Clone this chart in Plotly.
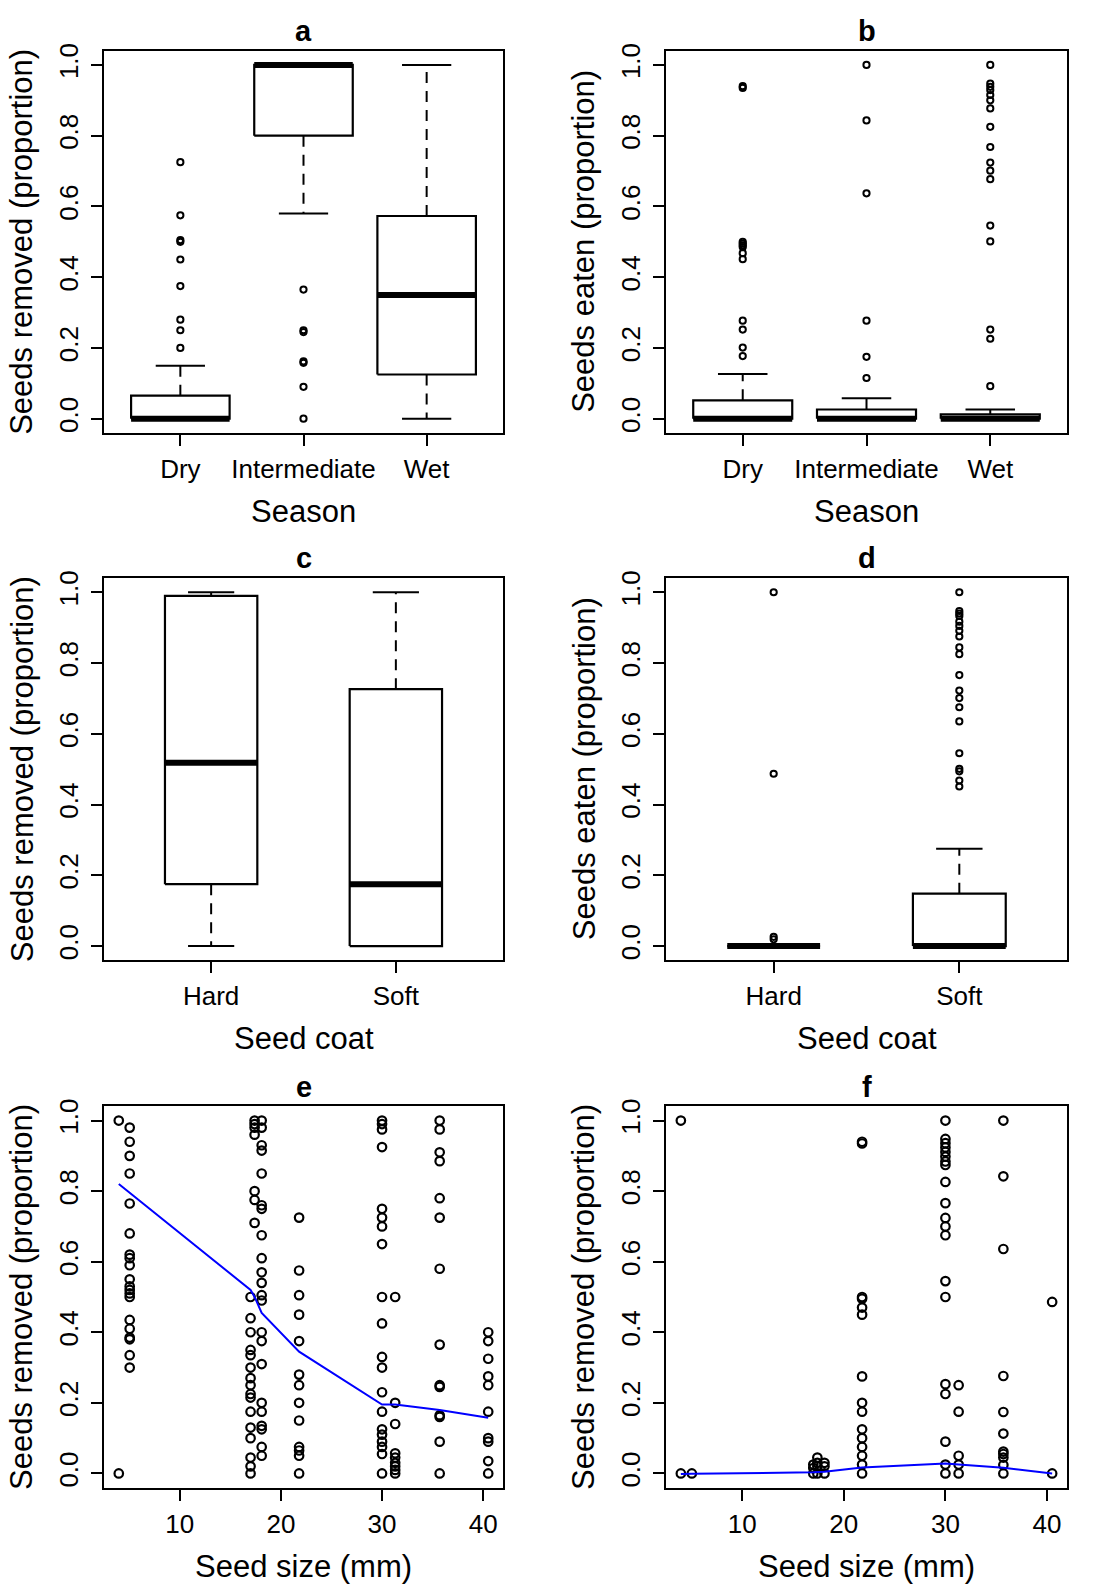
import plotly.graph_objects as go

W, H = 1094, 1591
FONT = "Liberation Sans, Arial, Helvetica, sans-serif"

# ---------------- data ----------------
season_cats = ["Dry", "Intermediate", "Wet"]
coat_cats = ["Hard", "Soft"]

# panel a: seeds removed by season (lower whisker, q1, median, q3, upper whisker)
a_lo = [0.0, 0.58, 0.0]
a_q1 = [0.0, 0.80, 0.125]
a_med = [0.0, 1.0, 0.35]
a_q3 = [0.065, 1.0, 0.573]
a_hi = [0.15, 1.0, 1.0]
a_out_dry = [0.725, 0.575, 0.505, 0.50, 0.45, 0.375, 0.28, 0.25, 0.20]
a_out_int = [0.365, 0.25, 0.245, 0.162, 0.158, 0.09, 0.0]
a_out_wet = []

# panel b: seeds eaten by season
b_lo = [0.0, 0.0, 0.0]
b_q1 = [0.0, 0.0, 0.0]
b_med = [0.0, 0.0, 0.0]
b_q3 = [0.052, 0.026, 0.012]
b_hi = [0.126, 0.058, 0.026]
b_out_dry = [0.94, 0.935, 0.50, 0.495, 0.49, 0.485, 0.468, 0.451, 0.277, 0.252, 0.201, 0.177]
b_out_int = [1.0, 0.843, 0.637, 0.277, 0.175, 0.115]
b_out_wet = [1.0, 0.947, 0.938, 0.929, 0.915, 0.90, 0.877, 0.825, 0.768, 0.724, 0.701,
             0.677, 0.546, 0.501, 0.252, 0.226, 0.092]

# panel c: seeds removed by seed coat
c_lo = [0.0, 0.0]
c_q1 = [0.175, 0.0]
c_med = [0.518, 0.175]
c_q3 = [0.99, 0.726]
c_hi = [1.0, 1.0]
c_out_hard = []
c_out_soft = []

# panel d: seeds eaten by seed coat
d_lo = [0.0, 0.0]
d_q1 = [0.0, 0.0]
d_med = [0.0, 0.0]
d_q3 = [0.0, 0.148]
d_hi = [0.0, 0.275]
d_out_hard = [1.0, 0.487, 0.026, 0.019]
d_out_soft = [1.0, 0.947, 0.94, 0.933, 0.917, 0.905, 0.891, 0.875, 0.844, 0.825, 0.766,
              0.722, 0.701, 0.675, 0.635, 0.545, 0.501, 0.494, 0.468, 0.451]

# panels e, f: seed size columns
seed_size = [3.97, 5.05, 17.0, 17.4, 18.1, 21.8, 30.0, 31.3, 35.7, 40.5]
e_removed = [
    [1.0, 0.0],
    [0.98, 0.94, 0.90, 0.85, 0.765, 0.68, 0.62, 0.61, 0.59, 0.55, 0.53, 0.52, 0.51, 0.50,
     0.435, 0.41, 0.385, 0.38, 0.335, 0.30],
    [0.50, 0.44, 0.40, 0.35, 0.335, 0.30, 0.27, 0.25, 0.225, 0.215, 0.175, 0.13, 0.10,
     0.045, 0.02, 0.0],
    [1.0, 0.99, 0.98, 0.96, 0.80, 0.775, 0.71],
    [1.0, 0.98, 0.93, 0.915, 0.85, 0.76, 0.75, 0.675, 0.61, 0.57, 0.54, 0.505, 0.49, 0.40,
     0.375, 0.31, 0.20, 0.175, 0.135, 0.125, 0.075, 0.05],
    [0.725, 0.575, 0.505, 0.45, 0.375, 0.28, 0.25, 0.20, 0.15, 0.075, 0.065, 0.05, 0.0],
    [1.0, 0.99, 0.975, 0.925, 0.75, 0.725, 0.70, 0.65, 0.50, 0.425, 0.33, 0.30, 0.23,
     0.175, 0.125, 0.11, 0.09, 0.075, 0.055, 0.0],
    [0.50, 0.20, 0.14, 0.057, 0.045, 0.03, 0.02, 0.01, 0.0],
    [1.0, 0.975, 0.91, 0.885, 0.78, 0.725, 0.58, 0.365, 0.25, 0.245, 0.165, 0.16, 0.09, 0.0],
    [0.40, 0.375, 0.325, 0.275, 0.25, 0.175, 0.10, 0.09, 0.035, 0.0],
]
e_fit = [0.82, 0.795, 0.52, 0.50, 0.455, 0.345, 0.195, 0.195, 0.18, 0.158]

f_removed = [
    [1.0, 0.0],
    [0.0],
    [0.025, 0.015, 0.0],
    [0.045, 0.03, 0.02, 0.0],
    [0.03, 0.02, 0.0],
    [0.94, 0.935, 0.50, 0.495, 0.47, 0.45, 0.275, 0.20, 0.175, 0.125, 0.10, 0.075, 0.05,
     0.025, 0.0],
    [1.0, 0.948, 0.936, 0.924, 0.911, 0.898, 0.884, 0.874, 0.826, 0.766, 0.724, 0.70,
     0.675, 0.545, 0.50, 0.253, 0.225, 0.09, 0.025, 0.0],
    [0.25, 0.175, 0.05, 0.025, 0.0],
    [1.0, 0.842, 0.636, 0.276, 0.174, 0.113, 0.062, 0.055, 0.045, 0.024, 0.0],
    [0.486, 0.0],
]
f_fit = [-0.002, -0.001, 0.003, 0.004, 0.005, 0.017, 0.028, 0.025, 0.016, 0.0]

y_ticks = [0.0, 0.2, 0.4, 0.6, 0.8, 1.0]
size_ticks = [10, 20, 30, 40]

# ---------------- layout geometry (pixels) ----------------
COLS = [(104, 503), (666, 1067)]
ROWS = [(43, 427), (573, 957), (1104, 1487)]

fig = go.Figure()


def px_x(x):
    return x / W


def px_y(y):
    return 1 - y / H


def box_traces(n, lo, q1, med, q3, hi, outs, half, xa, ya):
    pos = list(range(1, n + 1))
    wx, wy, sx, sy, rx, ry, mx, my = [], [], [], [], [], [], [], []
    for i, p in enumerate(pos):
        if hi[i] > q3[i]:
            wx += [p, p, None]
            wy += [q3[i], hi[i], None]
        if lo[i] < q1[i]:
            wx += [p, p, None]
            wy += [q1[i], lo[i], None]
        sx += [p - half / 2, p + half / 2, None, p - half / 2, p + half / 2, None]
        sy += [hi[i], hi[i], None, lo[i], lo[i], None]
        rx += [p - half, p + half, p + half, p - half, p - half, None]
        ry += [q1[i], q1[i], q3[i], q3[i], q1[i], None]
        mx += [p - half, p + half, None]
        my += [med[i], med[i], None]
    common = dict(xaxis=xa, yaxis=ya, showlegend=False, hoverinfo="skip")
    fig.add_trace(go.Scatter(x=wx, y=wy, mode="lines",
                             line=dict(color="black", width=2, dash="11px,8px"), **common))
    fig.add_trace(go.Scatter(x=sx, y=sy, mode="lines",
                             line=dict(color="black", width=2), **common))
    fig.add_trace(go.Scatter(x=rx, y=ry, mode="lines",
                             line=dict(color="black", width=2.2), **common))
    fig.add_trace(go.Scatter(x=mx, y=my, mode="lines",
                             line=dict(color="black", width=6), **common))
    ox, oy = [], []
    for i, vals in enumerate(outs):
        ox += [pos[i]] * len(vals)
        oy += vals
    fig.add_trace(go.Scatter(x=ox, y=oy, mode="markers",
                             marker=dict(symbol="circle-open", size=6.2, color="black",
                                         line=dict(width=2, color="black")), **common))


def scatter_traces(cols, fit, xa, ya):
    xs, ys = [], []
    for s, vals in zip(seed_size, cols):
        xs += [s] * len(vals)
        ys += vals
    common = dict(xaxis=xa, yaxis=ya, showlegend=False, hoverinfo="skip")
    fig.add_trace(go.Scatter(x=xs, y=ys, mode="markers",
                             marker=dict(symbol="circle-open", size=8.5, color="black",
                                         line=dict(width=2.2, color="black")), **common))
    fig.add_trace(go.Scatter(x=seed_size, y=fit, mode="lines",
                             line=dict(color="#0000ff", width=2), **common))


panels = [
    dict(kind="box", n=3, cats=season_cats, stats=(a_lo, a_q1, a_med, a_q3, a_hi),
         outs=[a_out_dry, a_out_int, a_out_wet], half=0.4, title="a",
         ytitle="Seeds removed (proportion)", xtitle="Season"),
    dict(kind="box", n=3, cats=season_cats, stats=(b_lo, b_q1, b_med, b_q3, b_hi),
         outs=[b_out_dry, b_out_int, b_out_wet], half=0.4, title="b",
         ytitle="Seeds eaten (proportion)", xtitle="Season"),
    dict(kind="box", n=2, cats=coat_cats, stats=(c_lo, c_q1, c_med, c_q3, c_hi),
         outs=[c_out_hard, c_out_soft], half=0.25, title="c",
         ytitle="Seeds removed (proportion)", xtitle="Seed coat"),
    dict(kind="box", n=2, cats=coat_cats, stats=(d_lo, d_q1, d_med, d_q3, d_hi),
         outs=[d_out_hard, d_out_soft], half=0.25, title="d",
         ytitle="Seeds eaten (proportion)", xtitle="Seed coat"),
    dict(kind="scatter", cols=e_removed, fit=e_fit, title="e",
         ytitle="Seeds removed (proportion)", xtitle="Seed size (mm)"),
    dict(kind="scatter", cols=f_removed, fit=f_fit, title="f",
         ytitle="Seeds removed (proportion)", xtitle="Seed size (mm)"),
]

layout = dict(width=W, height=H, margin=dict(l=0, r=0, t=0, b=0),
              paper_bgcolor="white", plot_bgcolor="white",
              font=dict(family=FONT, color="black"), showlegend=False)
annotations = []

axis_common = dict(showline=True, linecolor="black", linewidth=2, mirror=True,
                   ticks="outside", ticklen=11, tickwidth=2, tickcolor="black",
                   showgrid=False, zeroline=False, fixedrange=True,
                   tickfont=dict(family=FONT, size=26, color="black"))

for k, p in enumerate(panels):
    r, c = divmod(k, 2)
    x0, x1 = COLS[c]
    y0, y1 = ROWS[r]
    idx = "" if k == 0 else str(k + 1)
    xa, ya = "x" + idx, "y" + idx
    xkey, ykey = "xaxis" + idx, "yaxis" + idx

    if p["kind"] == "box":
        n = p["n"]
        pad = 0.04 * n
        xr = [0.5 - pad, n + 0.5 + pad]
        xticks = dict(tickmode="array", tickvals=list(range(1, n + 1)), ticktext=p["cats"])
        box_traces(n, *p["stats"], p["outs"], p["half"], xa, ya)
    else:
        lo_s, hi_s = min(seed_size), max(seed_size)
        pad = 0.04 * (hi_s - lo_s)
        xr = [lo_s - pad, hi_s + pad]
        xticks = dict(tickmode="array", tickvals=size_ticks,
                      ticktext=[str(t) for t in size_ticks])
        scatter_traces(p["cols"], p["fit"], xa, ya)

    layout[xkey] = dict(domain=[px_x(x0), px_x(x1)], range=xr, anchor=ya,
                        ticklabelstandoff=1, **xticks, **axis_common)
    layout[ykey] = dict(domain=[px_y(y1), px_y(y0)], range=[-0.04, 1.04], anchor=xa,
                        tickmode="array", tickvals=y_ticks,
                        ticktext=["%.1f" % t for t in y_ticks], tickangle=-90,
                        ticklabelstandoff=3, **axis_common)

    cx = (x0 + x1) / 2
    annotations.append(dict(text="<b>%s</b>" % p["title"], x=px_x(cx), y=px_y(y0 - 20),
                            xref="paper", yref="paper", showarrow=False,
                            xanchor="center", yanchor="middle",
                            font=dict(family=FONT, size=29, color="black")))
    annotations.append(dict(text=p["xtitle"], x=px_x(cx), y=px_y(y1 + 79),
                            xref="paper", yref="paper", showarrow=False,
                            xanchor="center", yanchor="middle",
                            font=dict(family=FONT, size=31, color="black")))
    annotations.append(dict(text=p["ytitle"], x=px_x(x0 - 82), y=px_y((y0 + y1) / 2),
                            xref="paper", yref="paper", showarrow=False, textangle=-90,
                            xanchor="center", yanchor="middle",
                            font=dict(family=FONT, size=31, color="black")))

layout["annotations"] = annotations
fig.update_layout(**layout)
fig.write_html("out.html", config={"displayModeBar": False},
               post_script="document.body.style.margin='0px';"
                           "document.body.style.overflow='hidden';")
